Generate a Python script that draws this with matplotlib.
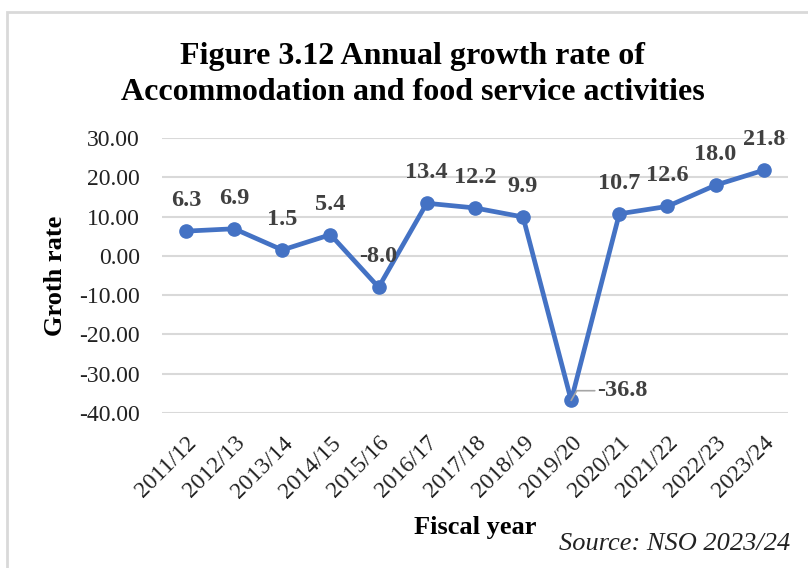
import matplotlib
matplotlib.use("Agg")
import matplotlib.pyplot as plt
from matplotlib.patches import Rectangle

# Annual growth rate, accommodation and food service activities
years = ['2011/12', '2012/13', '2013/14', '2014/15', '2015/16', '2016/17', '2017/18',
         '2018/19', '2019/20', '2020/21', '2021/22', '2022/23', '2023/24']
growth = [6.3, 6.9, 1.5, 5.4, -8.0, 13.4, 12.2, 9.9, -36.8, 10.7, 12.6, 18.0, 21.8]
yticks = [-40, -30, -20, -10, 0, 10, 20, 30]

plt.rcParams['font.family'] = ['Liberation Serif', 'DejaVu Serif']

BLUE = '#4472C4'
GRID = '#D9D9D9'
LABEL = '#404040'

fig = plt.figure(figsize=(8.08, 5.68), dpi=100)
ax = fig.add_axes([0.2005, 0.2729, 0.7745, 0.4841])

x = list(range(len(years)))
ax.plot(x, growth, color=BLUE, lw=3.4, marker='o', ms=9.5, solid_joinstyle='round', zorder=3)

ax.set_xlim(-0.5, len(years) - 0.5)
ax.set_ylim(-40, 30)
ax.set_yticks(yticks)
ax.set_yticklabels([f'{v:.2f}' for v in yticks])
ax.set_xticks(x)
ax.set_xticklabels(years, rotation=45, ha='right', rotation_mode='anchor')
ax.tick_params(axis='both', length=0, labelsize=17, colors='#222222')
ax.tick_params(axis='y', pad=16)
ax.tick_params(axis='x', pad=14)
ax.grid(axis='y', color=GRID, lw=1.5)
ax.set_axisbelow(True)
for s in ax.spines.values():
    s.set_visible(False)

# value labels above each point, the trough gets a leader line to the right
for xi, v in zip(x, growth):
    if v == min(growth):
        ax.annotate(f'{v:.1f}', xy=(xi, v), xytext=(19, 7), textcoords='offset points',
                    ha='left', va='center', fontsize=17.5, fontweight='bold', color=LABEL,
                    arrowprops=dict(arrowstyle='-', color='#A6A6A6', lw=1.2,
                                    connectionstyle='angle,angleA=0,angleB=60,rad=0',
                                    shrinkA=0, shrinkB=0, relpos=(0, 0.5)))
    else:
        ax.annotate(f'{v:.1f}', xy=(xi, v), xytext=(0, 22), textcoords='offset points',
                    ha='center', va='center', fontsize=17.5, fontweight='bold', color=LABEL)

ax.set_ylabel('Groth rate', fontsize=19, fontweight='bold')
ax.yaxis.set_label_coords(-0.152, 0.5)
fig.text(0.588, 0.072, 'Fiscal year', ha='center', va='center', fontsize=19, fontweight='bold')
fig.text(0.978, 0.043, 'Source: NSO 2023/24', ha='right', va='center', fontsize=19,
         style='italic', color='#222222')

fig.text(0.511, 0.869, 'Figure 3.12 Annual growth rate of\nAccommodation and food service activities',
         ha='center', va='center', fontsize=23, fontweight='bold', linespacing=1.32)

# chart frame
fig.patches.append(Rectangle((7 / 808, -0.1), 1.2, 1 - 12 / 568 + 0.1, transform=fig.transFigure,
                             fill=False, edgecolor=GRID, lw=2))

fig.savefig('out.png', dpi=100)
